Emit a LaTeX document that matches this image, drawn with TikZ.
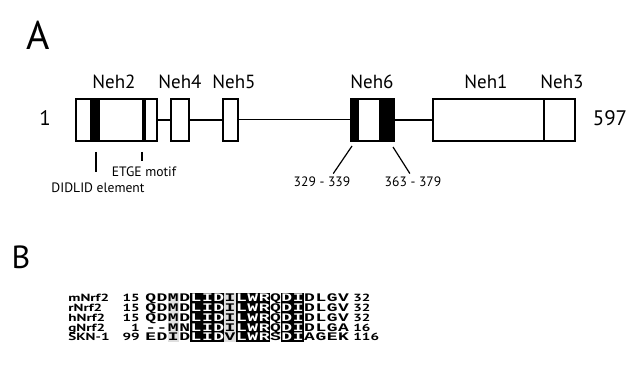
\documentclass[tikz,border=0pt]{standalone}
\usepackage{fontspec}
\setmainfont{PT Sans}
\newfontfamily\namefont{PT Sans}[FakeStretch=1.45]
\newfontfamily\seqfont{Liberation Mono}[FakeStretch=1.55]
\usetikzlibrary{calc}

\tikzset{
  domainbox/.style={draw, line width=0.8pt, fill=white, inner sep=0pt, minimum height=21pt},
  domlabel/.style={font=\fontsize{9.5}{10}\selectfont, inner sep=0pt, anchor=base},
  endlabel/.style={font=\fontsize{10.5}{11}\selectfont, inner sep=0pt},
  smalllabel/.style={font=\fontsize{6.8}{7}\selectfont, inner sep=0pt, anchor=base},
  panellabel/.style={font=\fontsize{20}{20}\selectfont, inner sep=0pt},
  backbone/.style={line width=0.8pt},
  leader/.style={line width=0.6pt},
  seqname/.style={font=\namefont\bfseries\fontsize{5.2}{6}\selectfont, inner sep=0pt},
  seqres/.style={font=\seqfont\bfseries\fontsize{5.8}{6}\selectfont, inner sep=0pt, anchor=base}
}

% one row of the alignment: #1 row number, #2 residues
\newcommand{\alnrow}[2]{%
  \pgfmathsetmacro{\rowy}{298+9.75*(#1-1)}
  \foreach \c [count=\i] in {#2} {
    \pgfmathtruncatemacro{\inblk}{((\i>4)&&(\i<8))||((\i>8)&&(\i<12))||((\i>12)&&(\i<15))}
    \ifnum\inblk=1 \def\rescol{white}\else\def\rescol{black}\fi
    \node[seqres, text=\rescol] (res#1-\i) at ({145+11.35*(\i-0.5)},{\rowy+3.8}) {\c};
  }
}

\begin{document}
\begin{tikzpicture}[x=0.5pt, y=-0.5pt]
\useasboundingbox (0,0) rectangle (626,379);
% A: domains of Nrf2
\node[panellabel] (labA) at (38,35) {A};
\node[endlabel] (nterm) at (45,118) {1};
\node[endlabel] (cterm) at (610,118) {597};
\node[domainbox, minimum width=40.5pt] (neh2) at (116.5,120) {};
\node[domainbox, minimum width=9pt] (neh4) at (180,120) {};
\node[domainbox, minimum width=7.5pt] (neh5) at (230.5,120) {};
\node[domainbox, minimum width=21.5pt] (neh6) at (372.5,120) {};
\node[domainbox, minimum width=71pt] (neh13) at (504,120) {};
\draw[backbone] (neh2.east) -- (neh4.west);
\draw[backbone] (neh4.east) -- (neh5.west);
\draw[backbone, line width=0.5pt] (neh5.east) -- (neh6.west);
\draw[backbone] (neh6.east) -- (neh13.west);
% dark bands and the Neh1/Neh3 border
\fill (90,99) rectangle (100,141);
\fill (142,99) rectangle (146,141);
\fill (351,99) rectangle (359,141);
\fill (379,99) rectangle (394,141);
\draw[line width=0.8pt] (544,99) -- (544,141);
% names above the boxes
\node[domlabel] (lneh2) at (114,88.5) {Neh2};
\node[domlabel] (lneh4) at (180,88.5) {Neh4};
\node[domlabel] (lneh5) at (234,88.5) {Neh5};
\node[domlabel] (lneh6) at (372,88.5) {Neh6};
\node[domlabel] (lneh1) at (486,88.5) {Neh1};
\node[domlabel] (lneh3) at (562,88.5) {Neh3};
% motifs and residue ranges
\coordinate (didlidtop) at (96,152);
\coordinate (etgetop) at (142,152);
\coordinate (n6left) at (352,146);
\coordinate (n6right) at (393,147);
\node[smalllabel] (didlid) at (98,193) {DIDLID element};
\node[smalllabel] (etge) at (144,177) {ETGE motif};
\node[smalllabel] (r329) at (322,187) {329 - 339};
\node[smalllabel] (r363) at (413,187) {363 - 379};
\draw[leader, shorten >=5.5pt] (didlidtop) -- (didlidtop |- didlid.north);
\draw[leader, shorten >=3pt] (etgetop) -- (etgetop |- etge.north);
\draw[leader, shorten >=2pt] (n6left) -- ([xshift=4.5pt]r329.north);
\draw[leader, shorten >=2pt] (n6right) -- ([xshift=-0.5pt]r363.north);

% B: alignment of the DIDLID element
\node[panellabel, font=\fontsize{16}{16}\selectfont] (labB) at (21,257) {B};
\fill[gray!25] ({145+11.35*2},293) rectangle ({145+11.35*3},342);
\fill[gray!25] ({145+11.35*7},293) rectangle ({145+11.35*8},342);
\fill ({145+11.35*4},293) rectangle ({145+11.35*7},342);
\fill ({145+11.35*8},293) rectangle ({145+11.35*11},342);
\fill ({145+11.35*12},293) rectangle ({145+11.35*14},342);
\alnrow{1}{Q,D,M,D,L,I,D,I,L,W,R,Q,D,I,D,L,G,V}
\alnrow{2}{Q,D,M,D,L,I,D,I,L,W,R,Q,D,I,D,L,G,V}
\alnrow{3}{Q,D,M,D,L,I,D,I,L,W,R,Q,D,I,D,L,G,V}
\alnrow{4}{-,-,M,N,L,I,D,I,L,W,R,Q,D,I,D,L,G,A}
\alnrow{5}{E,D,I,D,L,I,D,V,L,W,R,S,D,I,A,G,E,K}
\node[seqname, anchor=base west] (nm1) at (68,301.8) {mNrf2};
\node[seqname, anchor=base west] (nm2) at (68,311.55) {rNrf2};
\node[seqname, anchor=base west] (nm3) at (68,321.3) {hNrf2};
\node[seqname, anchor=base west] (nm4) at (68,331.05) {gNrf2};
\node[seqname, anchor=base west] (nm5) at (68,340.8) {SKN-1};
\node[seqname, anchor=base east] (st1) at (140,301.8) {15};
\node[seqname, anchor=base east] (st2) at (140,311.55) {15};
\node[seqname, anchor=base east] (st3) at (140,321.3) {15};
\node[seqname, anchor=base east] (st4) at (140,331.05) {1};
\node[seqname, anchor=base east] (st5) at (140,340.8) {99};
\node[seqname, anchor=base west] (en1) at (353,301.8) {32};
\node[seqname, anchor=base west] (en2) at (353,311.55) {32};
\node[seqname, anchor=base west] (en3) at (353,321.3) {32};
\node[seqname, anchor=base west] (en4) at (353,331.05) {16};
\node[seqname, anchor=base west] (en5) at (353,340.8) {116};
\end{tikzpicture}
\end{document}
